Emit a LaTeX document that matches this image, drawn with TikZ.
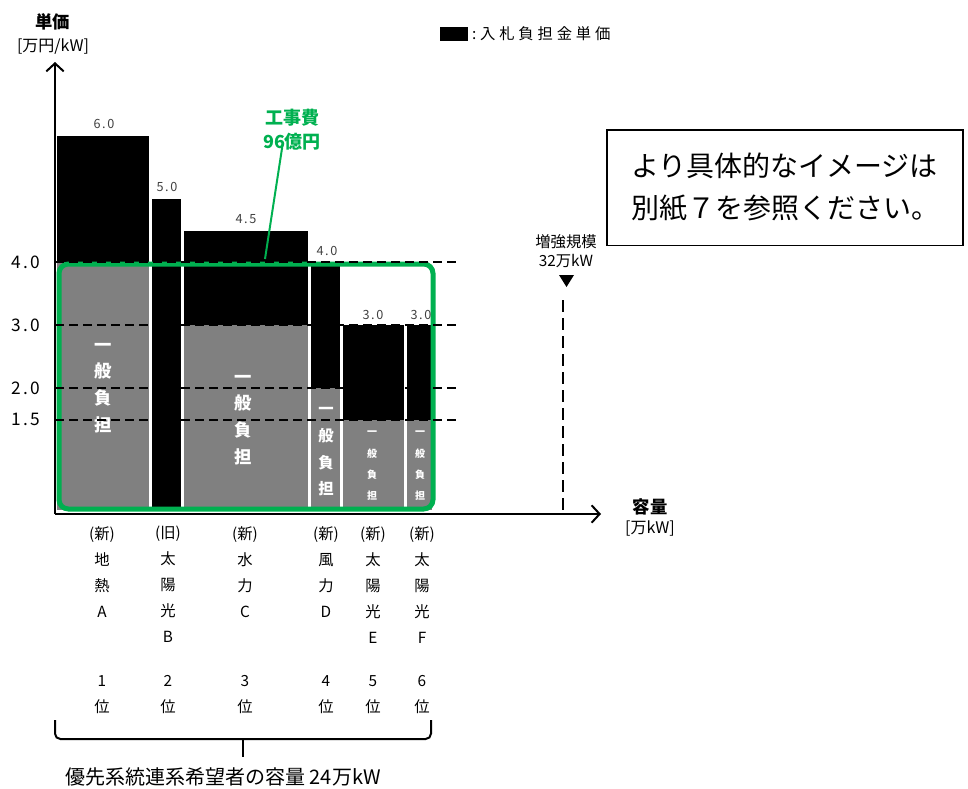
\documentclass[tikz,border=0pt]{standalone}
\usepackage{fontspec}
\setmainfont{Noto Sans CJK JP}
\newfontfamily\jpwide[LetterSpace=12]{Noto Sans CJK JP}
\newfontfamily\jpwider[LetterSpace=25]{Noto Sans CJK JP}
\usetikzlibrary{arrows.meta,positioning}
\definecolor{kgreen}{RGB}{0,176,80}
\definecolor{kgray}{RGB}{128,128,128}
\newcommand{\fsz}[2]{\fontsize{#1}{#2}\selectfont}

\begin{document}
\begin{tikzpicture}[x=0.75pt,y=0.75pt,yscale=-1,xscale=1,
  lvl/.style={dash pattern=on 7pt off 3.5pt, line width=1.5pt},
  axis/.style={line width=1.5pt, -{Straight Barb[length=6pt,width=13pt,line width=1.5pt]}},
  val/.style={inner sep=0pt, text=black!75, font=\jpwide\fsz{9.5}{10}},
  tick/.style={inner sep=0pt, font=\jpwide\fsz{13}{14}},
  ippan/.style={inner sep=0pt, text=white, align=center, font=\bfseries\fsz{13}{20}},
  ippans/.style={inner sep=0pt, text=white, align=center, font=\bfseries\fsz{7.5}{16}},
  cat/.style={inner sep=0pt, anchor=north, align=center, font=\fsz{11.5}{19.5}},
  lab/.style={inner sep=0pt, align=center},
  ]
\useasboundingbox (0,0) rectangle (968,789);

%Bars: black = bid price, gray = general share
\foreach \xa/\xb/\top/\cut in {57/149/136/262, 152/181/199/510, 184/308/230.5/325,
    311/340/262/388, 343/404/325/419.5, 407/432/325/419.5} {
  \fill (\xa,\top) rectangle (\xb,510);
  \fill[kgray] (\xa,\cut) rectangle (\xb,510);
}

% Text Node
\node[ippan] (ipA) at (103,388) {一\\般\\負\\担};
\node[ippan] (ipC) at (243,420) {一\\般\\負\\担};
\node[ippan, font=\bfseries\fsz{11.5}{20}] (ipD) at (326,452) {一\\般\\負\\担};
\node[ippans] (ipE) at (372,466) {一\\般\\負\\担};
\node[ippans] (ipF) at (420,466) {一\\般\\負\\担};

%Shape: Rounded Rect (construction cost)
\draw[kgreen, line width=3.75pt, rounded corners=7pt] (59,264) rectangle (433,509);

%Dashed levels
\foreach \yy in {262,325,388,419.5}
  \draw[lvl] (55,\yy) -- (458,\yy);

% Axes
\coordinate (O) at (55,514);
\coordinate (ytop) at (55,62);
\coordinate (xend) at (601,514);
\draw[axis] (O) -- (ytop);
\draw[axis] (O) -- (xend);

% Text Node
\node[lab, font=\bfseries\fsz{13}{15}] (ylab) at (53,22) {単価};
\node[lab, font=\fsz{12}{14}] (yunit) at (53,47) {[万円/kW]};
\node[lab, font=\bfseries\fsz{13}{15}] (xlab) at (650,507) {容量};
\node[lab, font=\fsz{12}{14}] (xunit) at (650,528) {[万kW]};

\foreach \yy/\t [count=\i] in {262/4.0,325/3.0,388/2.0,419.5/1.5}
  \node[tick] (tick\i) at (26,\yy) {\t};

% bar values
\node[val] (vA) at (104,124) {6.0};
\node[val] (vB) at (167,187) {5.0};
\node[val] (vC) at (246,219) {4.5};
\node[val] (vD) at (327,251) {4.0};
\node[val] (vE) at (373,315) {3.0};
\node[val] (vF) at (421,315) {3.0};

% Legend
\node[fill=black, minimum width=21pt, minimum height=10pt, inner sep=0pt] (legbox) at (453.5,34) {};
\node[lab, font=\jpwider\fsz{11.5}{12}, right=3pt of legbox] (legtxt) {:入札負担金単価};

% construction cost label
\node[lab, text=kgreen, font=\bfseries\fsz{13.5}{18}] (kojihi) at (292,130) {工事費\\96億円};
\coordinate (kojiend) at (265,259);
\draw[kgreen, line width=1.5pt] ([xshift=-7pt,yshift=-5pt]kojihi.south) -- (kojiend);

% reinforcement scale
\node[lab, font=\fsz{11.5}{14}] (zokyo) at (566,251) {増強規模\\32万kW};
\fill (559,275) -- (574,275) -- (566.5,287) -- cycle;
\draw[dash pattern=on 9pt off 4.5pt, line width=1.5pt] (563,300) -- (563,514);

% note box
\node[draw, line width=1pt, minimum width=267pt, minimum height=86.5pt, align=left,
  font=\fsz{21}{31.5}] (note) at (785,187.5) {より具体的なイメージは\\別紙７を参照ください。};

% Categories and ranks
\foreach \xx/\t/\r [count=\i] in {102/{(新)\\地\\熱\\A}/1, 168/{(旧)\\太\\陽\\光\\B}/2,
    245/{(新)\\水\\力\\C}/3, 326/{(新)\\風\\力\\D}/4,
    373/{(新)\\太\\陽\\光\\E}/5, 422/{(新)\\太\\陽\\光\\F}/6} {
  \node[cat] (cat\i) at (\xx,526) {\t};
  \node[cat] (rank\i) at (\xx,675) {\r\\位};
}

% Brace
\coordinate (brl) at (55,720);
\coordinate (brr) at (431,720);
\coordinate (brm) at (243,757);
\draw[line width=1.5pt, rounded corners=4pt] (brl) -- (55,739) -- (431,739) -- (brr);
\draw[line width=1.5pt] (243,739) -- (brm);
\node[lab, font=\fsz{15}{17}] (total) at (223,777) {優先系統連系希望者の容量 24万kW};
\end{tikzpicture}
\end{document}
